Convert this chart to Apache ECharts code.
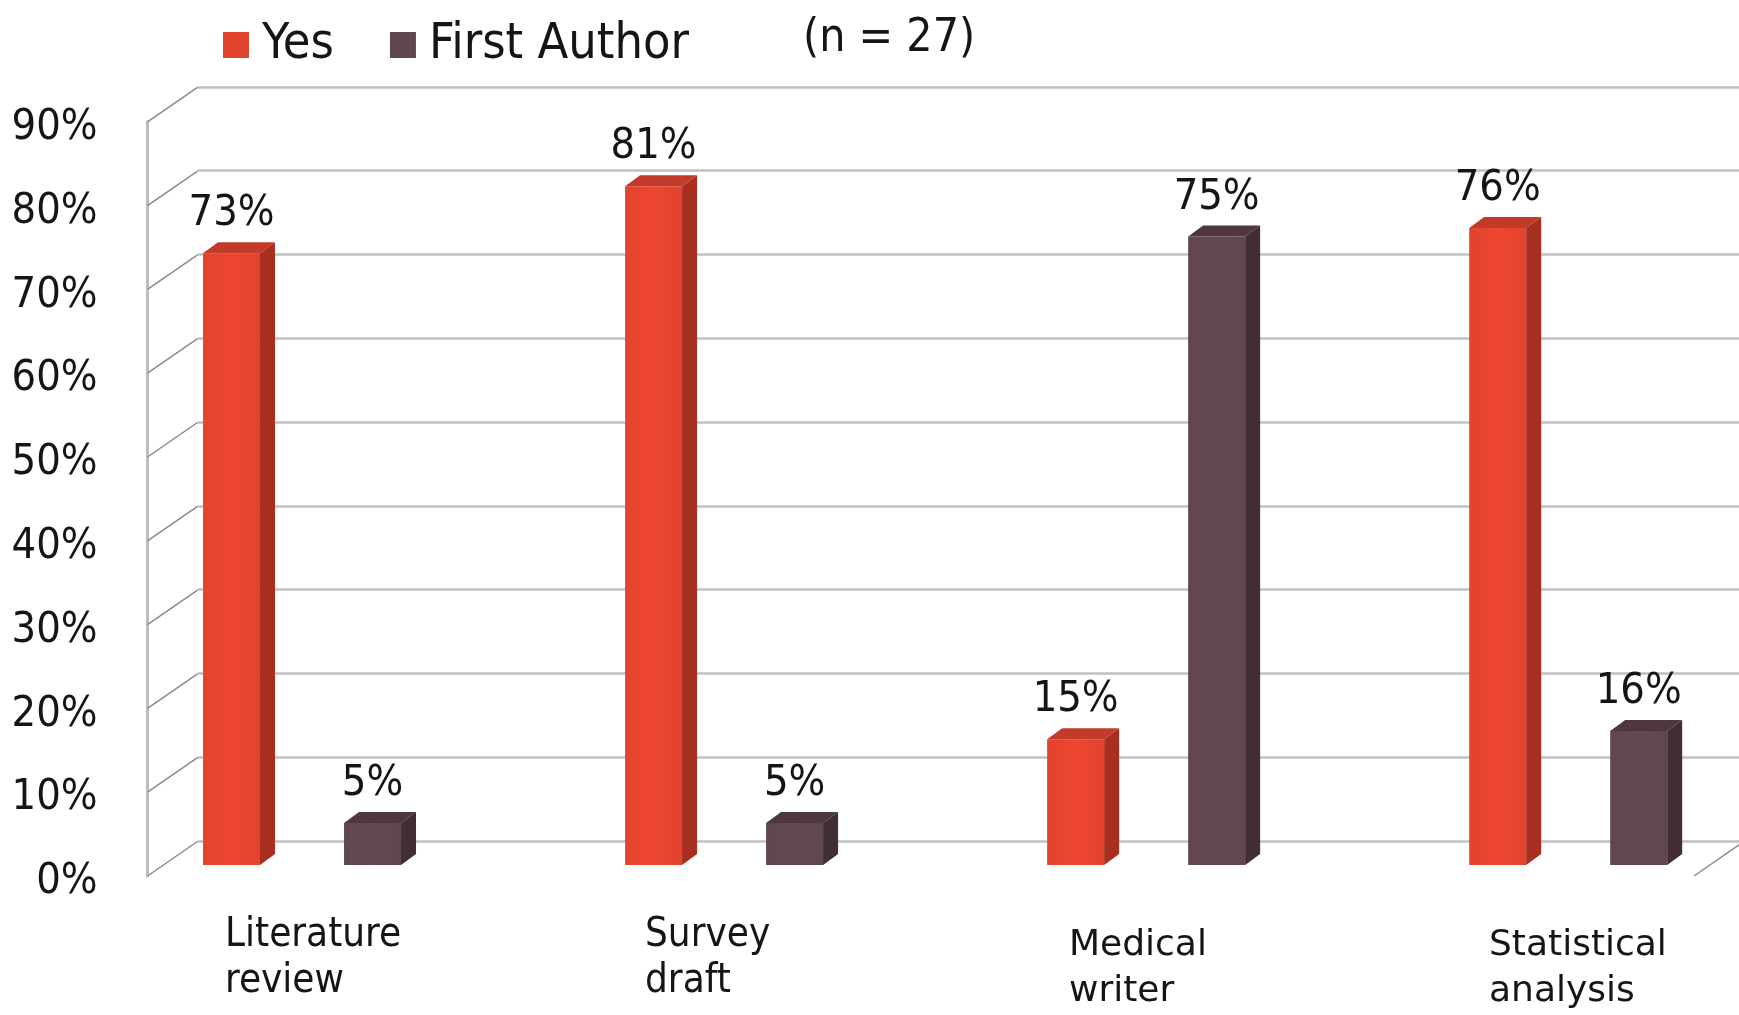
<!DOCTYPE html>
<html>
<head>
<meta charset="utf-8">
<script src="https://cdn.jsdelivr.net/npm/echarts@6/dist/echarts.min.js"></script>
<style>html,body{margin:0;background:#fff}</style>
</head>
<body>
<div id="chartmain" style="width:1739px;height:1015px"></div>
<script type="text/javascript">
// data
var categories = ['Literature\nreview', 'Survey\ndraft', 'Medical\nwriter', 'Statistical\nanalysis'];
var seriesNames = ['Yes', 'First Author'];
var yesValues = [73, 81, 15, 76];
var firstAuthorValues = [5, 5, 75, 16];
var yTicks = [0, 10, 20, 30, 40, 50, 60, 70, 80, 90];
var note = '(n = 27)';

// pseudo 3d geometry
var WALL_DX = 50, WALL_DY = -34.5;   // front edge -> back wall
var BAR_DX = 15, BAR_DY = -11;       // bar depth
var BAR_W = 57;
var PAIR_OFF = 70.5;                 // bar centre from category centre
var COND = "'DejaVu Sans Condensed', 'DejaVu Sans', sans-serif";
var WIDE = "'DejaVu Sans', Verdana, sans-serif";

var RED = ['#E2432E', '#A82F1F', '#C23A28'];
var BROWN = ['#5F474D', '#412D34', '#4E383D'];

function barRenderer(offset, colors) {
    return function (params, api) {
        var i = api.value(0), v = api.value(1);
        var top = api.coord([i, v]);
        var base = api.coord([i, 0]);
        var cx = top[0] + offset;
        var x0 = cx - BAR_W / 2, x1 = cx + BAR_W / 2;
        var yt = top[1], yb = base[1];
        return {
            type: 'group',
            children: [
                { type: 'rect', shape: { x: x0, y: yt, width: BAR_W, height: yb - yt },
                  style: { fill: new echarts.graphic.LinearGradient(0, 0, 1, 0, [
                      { offset: 0, color: colors[0] }, { offset: 0.5, color: echarts.color.lift(colors[0], -0.05) },
                      { offset: 1, color: colors[0] }]) } },
                { type: 'polygon', shape: { points: [[x1, yt], [x1 + BAR_DX, yt + BAR_DY], [x1 + BAR_DX, yb + BAR_DY], [x1, yb]] },
                  style: { fill: colors[1] } },
                { type: 'polygon', shape: { points: [[x0, yt], [x0 + BAR_DX, yt + BAR_DY], [x1 + BAR_DX, yt + BAR_DY], [x1, yt]] },
                  style: { fill: colors[2] } },
                { type: 'text', x: cx, y: yt - 39,
                  style: { text: v + '%', fill: '#151515', fontSize: 43, fontFamily: COND, align: 'center', verticalAlign: 'middle' } }
            ]
        };
    };
}

var labelNarrow = { fontFamily: COND, fontSize: 40, align: 'left' };
var labelWide = { fontFamily: WIDE, fontSize: 36, align: 'left', padding: [10, 0, 0, 4] };

var option = {
    animation: false,
    backgroundColor: '#fff',
    title: {
        text: note, left: 798, top: 11,
        textStyle: { fontSize: 46, fontWeight: 'normal', fontFamily: COND, color: '#151515' }
    },
    legend: {
        data: seriesNames, left: 218, top: 15, icon: 'rect',
        itemWidth: 26, itemHeight: 26, itemGap: 56,
        textStyle: { fontSize: 50, fontFamily: COND, color: '#151515', padding: [0, 0, 0, 8] }
    },
    grid: [
        { left: 163, right: 29, top: 110.8, bottom: 150 },       // bars plane
        { left: 197.5, right: 0, top: 86.8, bottom: 174 },       // back wall
        { left: 147.5, right: 45, top: 121.8, bottom: 139 },     // front axis
        { left: 15, right: 44, top: 121.8, bottom: 139 },        // category labels
        { left: 147.5, right: 45, top: 127.8, bottom: 133 }      // y tick labels
    ],
    xAxis: [
        { gridIndex: 0, type: 'value', min: -0.3294, max: 3.336, show: false },
        { gridIndex: 1, type: 'value', min: 0, max: 1, show: false },
        { gridIndex: 2, type: 'value', min: 0, max: 1, show: false },
        {
            gridIndex: 3, type: 'category', boundaryGap: true,
            data: categories.map(function (c, i) {
                return { value: c, textStyle: i < 2 ? labelNarrow : labelWide };
            }),
            axisLine: { show: false }, axisTick: { show: false },
            axisLabel: { interval: 0, align: 'left', verticalAlign: 'top', margin: 61, lineHeight: 46.5, color: '#151515' }
        },
        { gridIndex: 4, type: 'value', min: 0, max: 1, show: false }
    ],
    yAxis: [
        { gridIndex: 0, type: 'value', min: 0, max: 90, interval: 10, show: false },
        {
            gridIndex: 1, type: 'value', min: 0, max: 90, interval: 10,
            axisLine: { show: false }, axisTick: { show: false }, axisLabel: { show: false },
            splitLine: { show: true, lineStyle: { color: '#C0C0C0', width: 2.5 } }
        },
        {
            gridIndex: 2, type: 'value', min: 0, max: 90, interval: 10,
            axisLine: { show: true, lineStyle: { color: '#BDBDBD', width: 3 } },
            axisTick: { show: false }, splitLine: { show: false }, axisLabel: { show: false }
        },
        { gridIndex: 3, type: 'value', show: false },
        {
            gridIndex: 4, type: 'value', min: 0, max: 90, interval: 10,
            axisLine: { show: false }, axisTick: { show: false }, splitLine: { show: false },
            axisLabel: { formatter: '{value}%', fontSize: 43, fontFamily: COND, color: '#151515', margin: 50 }
        }
    ],
    series: [
        {
            // side wall / floor edges
            type: 'custom', xAxisIndex: 2, yAxisIndex: 2, silent: true, z: 1,
            data: yTicks.map(function (t) { return [0, t]; }).concat([[1, 0]]),
            renderItem: function (params, api) {
                var p = api.coord([api.value(0), api.value(1)]);
                return {
                    type: 'line',
                    shape: { x1: p[0], y1: p[1], x2: p[0] + WALL_DX, y2: p[1] + WALL_DY },
                    style: { stroke: '#8A8A8A', lineWidth: 1.5 }
                };
            }
        },
        {
            name: seriesNames[0], type: 'custom', xAxisIndex: 0, yAxisIndex: 0, z: 5,
            itemStyle: { color: RED[0] },
            data: yesValues.map(function (v, i) { return [i, v]; }),
            renderItem: barRenderer(-PAIR_OFF, RED)
        },
        {
            name: seriesNames[1], type: 'custom', xAxisIndex: 0, yAxisIndex: 0, z: 5,
            itemStyle: { color: BROWN[0] },
            data: firstAuthorValues.map(function (v, i) { return [i, v]; }),
            renderItem: barRenderer(PAIR_OFF, BROWN)
        }
    ]
};

var myChart = echarts.init(document.getElementById('chartmain'));
myChart.setOption(option);
</script>
</body>
</html>
